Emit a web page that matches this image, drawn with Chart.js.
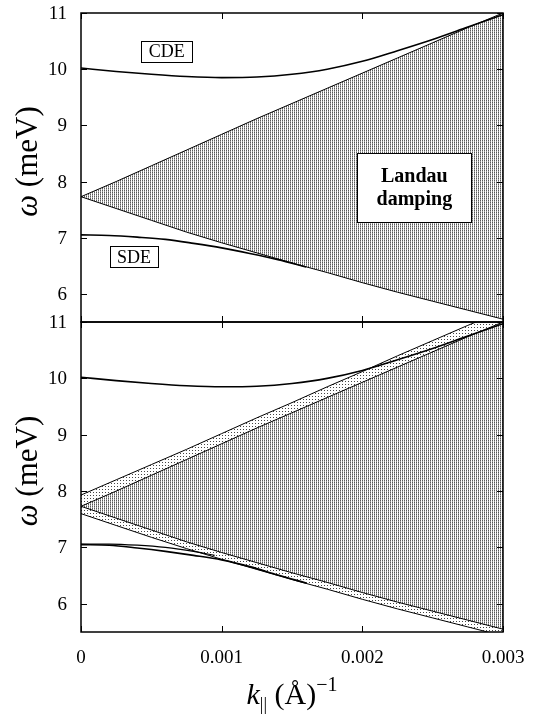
<!DOCTYPE html>
<html><head><meta charset="utf-8">
<script src="https://cdn.jsdelivr.net/npm/chart.js@4/dist/chart.umd.min.js"></script>
<style>
html,body{margin:0;padding:0;background:#fff;}
#wrap{position:relative;width:540px;height:715px;overflow:hidden;background:#fff;}
canvas{position:absolute;left:0;}
#c1{top:0;}
#c2{top:300px;}
</style></head><body>
<div id="wrap">
<canvas id="c2" width="540" height="415"></canvas>
<canvas id="c1" width="540" height="340"></canvas>
</div>
<script>
// ---- data ----
const kGrid = [0, 0.00025, 0.0005, 0.00075, 0.001, 0.00125, 0.0015, 0.00175, 0.002, 0.00225, 0.0025, 0.00275, 0.003];
const cdeOmega = [10.02, 9.96, 9.91, 9.87, 9.85, 9.86, 9.91, 10.0, 10.14, 10.33, 10.53, 10.75, 10.97];
const landauUpper = [7.73, 8.0, 8.28, 8.56, 8.84, 9.12, 9.39, 9.66, 9.93, 10.2, 10.47, 10.74, 11.0];
const landauLower = [7.73, 7.52, 7.31, 7.1, 6.91, 6.73, 6.55, 6.38, 6.2, 6.03, 5.87, 5.71, 5.55];
const outerUpper = [7.93, 8.2, 8.47, 8.74, 9.02, 9.3, 9.57, 9.85, 10.12, 10.4, 10.67, 10.94, 11.2];
const outerLower = [7.6, 7.39, 7.18, 6.98, 6.79, 6.61, 6.43, 6.26, 6.08, 5.91, 5.75, 5.59, 5.43];
const sdeK = [0, 0.0002, 0.0004, 0.0006, 0.0008, 0.001, 0.0012, 0.0014, 0.0016];
const sdeTop = [7.05, 7.04, 7.01, 6.97, 6.9, 6.82, 6.72, 6.61, 6.48];
const sdeBotB = [7.05, 7.04, 6.99, 6.93, 6.86, 6.78, 6.66, 6.51, 6.37];
const sdeAK = [0, 0.0002, 0.0004, 0.0006, 0.0008, 0.00095];
const sdeBotA = [7.06, 7.06, 7.04, 7.0, 6.93, 6.86];
const xTicks = [0, 0.001, 0.002, 0.003];
const xTickLabels = ['0', '0.001', '0.002', '0.003'];
const yTicks = [6, 7, 8, 9, 10, 11];
const yTickLabels = ['6', '7', '8', '9', '10', '11'];

// ---- annotation config (positions in data units) ----
const notes = [
  {lines: ['CDE'], k: 0.00061, w: 10.31, bw: 51, bh: 21, bold: false, size: 18},
  {lines: ['SDE'], k: 0.000376, w: 6.66, bw: 48, bh: 21, bold: false, size: 18},
  {lines: ['Landau', 'damping'], k: 0.00237, w: 7.9, bw: 114, bh: 69, bold: true, size: 20}
];

const FONT = '"Liberation Serif", "Times New Roman", serif';
Chart.defaults.font.family = FONT;
Chart.defaults.color = '#000';

function pts(ks, vs) { return ks.map((k, i) => ({x: k, y: vs[i]})); }

function makePattern(w, h, dots) {
  const c = document.createElement('canvas');
  c.width = w; c.height = h;
  const g = c.getContext('2d');
  dots.forEach(([x, y, col]) => { g.fillStyle = col; g.fillRect(x, y, 1, 1); });
  return g.createPattern(c, 'repeat');
}
const densePat = makePattern(2, 2, [[0, 0, '#5a5a5a'], [0, 1, '#a0a0a0']]);
const sparsePat = makePattern(3, 3, [[0, 0, '#444']]);

// frame, inward ticks and tick labels, all placed through the chart's own scales
const axesPlugin = {
  id: 'axesframe',
  afterDatasetsDraw(chart, args, opts) {
    const {ctx, chartArea: a, scales} = chart;
    const x = scales.x, y = scales.y;
    ctx.save();
    ctx.strokeStyle = '#000';
    ctx.lineWidth = 1.5;
    ctx.strokeRect(a.left, a.top, a.right - a.left, a.bottom - a.top);
    ctx.lineWidth = 1;
    const L = 6;
    ctx.beginPath();
    yTicks.forEach(v => {
      const py = Math.round(y.getPixelForValue(v)) + 0.5;
      ctx.moveTo(a.left, py); ctx.lineTo(a.left + L, py);
      ctx.moveTo(a.right, py); ctx.lineTo(a.right - L, py);
    });
    xTicks.forEach(v => {
      const px = Math.round(x.getPixelForValue(v)) + 0.5;
      ctx.moveTo(px, a.top); ctx.lineTo(px, a.top + L);
      ctx.moveTo(px, a.bottom); ctx.lineTo(px, a.bottom - L);
    });
    ctx.stroke();
    ctx.fillStyle = '#000';
    ctx.font = '19px ' + FONT;
    ctx.textAlign = 'right';
    ctx.textBaseline = 'middle';
    yTicks.forEach((v, i) => ctx.fillText(yTickLabels[i], a.left - 14, y.getPixelForValue(v) + 1));
    if (opts && opts.xLabels) {
      ctx.textAlign = 'center';
      xTicks.forEach((v, i) => ctx.fillText(xTickLabels[i], x.getPixelForValue(v), a.bottom + 26));
    }
    ctx.restore();
  }
};

const yTitlePlugin = {
  id: 'ytitle',
  afterDraw(chart) {
    const {ctx, chartArea: a} = chart;
    const cy = (a.top + a.bottom) / 2 - 6;
    const fs = 31;
    ctx.save();
    ctx.translate(29, cy);
    ctx.rotate(-Math.PI / 2);
    ctx.textBaseline = 'middle';
    ctx.fillStyle = '#000';
    ctx.font = 'italic ' + fs + 'px ' + FONT;
    const w1 = ctx.measureText('ω').width;
    ctx.font = fs + 'px ' + FONT;
    const t2 = ' (meV)';
    const w2 = ctx.measureText(t2).width;
    const x0 = -(w1 + w2) / 2;
    ctx.textAlign = 'left';
    ctx.font = 'italic ' + fs + 'px ' + FONT;
    ctx.fillText('ω', x0, 0);
    ctx.font = fs + 'px ' + FONT;
    ctx.fillText(t2, x0 + w1, 0);
    ctx.restore();
  }
};

const notesPlugin = {
  id: 'notes',
  afterDraw(chart) {
    const {ctx, scales: {x, y}} = chart;
    ctx.save();
    notes.forEach(n => {
      const cx = x.getPixelForValue(n.k), cy = y.getPixelForValue(n.w);
      const l = Math.round(cx - n.bw / 2) + 0.5, t = Math.round(cy - n.bh / 2) + 0.5;
      ctx.fillStyle = '#fff';
      ctx.fillRect(l, t, n.bw, n.bh);
      ctx.strokeStyle = '#000';
      ctx.lineWidth = 1;
      ctx.strokeRect(l, t, n.bw, n.bh);
      ctx.fillStyle = '#000';
      ctx.font = (n.bold ? 'bold ' : '') + n.size + 'px ' + FONT;
      ctx.textAlign = 'center';
      ctx.textBaseline = 'middle';
      const lh = n.size * 1.15;
      const y0 = cy - (n.lines.length - 1) * lh / 2;
      n.lines.forEach((s, i) => ctx.fillText(s, cx, y0 + i * lh + 1));
    });
    ctx.restore();
  }
};

const xTitlePlugin = {
  id: 'xtitle',
  afterDraw(chart) {
    const {ctx, chartArea: a} = chart;
    const cx = (a.left + a.right) / 2;
    const base = a.bottom + 72;
    ctx.save();
    ctx.fillStyle = '#000';
    ctx.textBaseline = 'alphabetic';
    ctx.textAlign = 'left';
    const parts = [
      {t: 'k', f: 'italic 30px ' + FONT, dy: 0},
      {t: '||', f: '18px ' + FONT, dy: 6},
      {t: ' (Å)', f: '30px ' + FONT, dy: 0},
      {t: '−1', f: '20px ' + FONT, dy: -13}
    ];
    let total = 0;
    parts.forEach(p => { ctx.font = p.f; p.w = ctx.measureText(p.t).width; total += p.w; });
    let xx = cx - total / 2;
    parts.forEach(p => { ctx.font = p.f; ctx.fillText(p.t, xx, base + p.dy); xx += p.w; });
    ctx.restore();
  }
};

function yScale() {
  return {
    type: 'linear', min: 5.5, max: 11, display: false,
    afterBuildTicks: s => { s.ticks = yTicks.map(v => ({value: v})); }
  };
}
function xScale() {
  return {
    type: 'linear', min: 0, max: 0.003, display: false,
    afterBuildTicks: s => { s.ticks = xTicks.map(v => ({value: v})); }
  };
}
const edge = {borderColor: '#000', borderWidth: 1, pointRadius: 0, tension: 0};
const curve = {borderColor: '#000', borderWidth: 1.6, pointRadius: 0, cubicInterpolationMode: 'monotone', fill: false};

function makeChart(canvasId, datasets, xLabels, plugins, pad) {
  return new Chart(document.getElementById(canvasId), {
    type: 'line',
    data: {datasets: datasets},
    options: {
      responsive: false, animation: false, devicePixelRatio: 1,
      events: [],
      layout: {padding: pad, autoPadding: false},
      plugins: {legend: {display: false}, tooltip: {enabled: false},
        filler: {drawTime: 'beforeDatasetsDraw'}, axesframe: {xLabels: xLabels}},
      scales: {x: xScale(), y: yScale()}
    },
    plugins: plugins
  });
}

// top panel: plot area 13..322 px, 81..503 px
makeChart('c1', [
    Object.assign({data: pts(kGrid, landauUpper), fill: '+1', backgroundColor: densePat}, edge),
    Object.assign({data: pts(kGrid, landauLower), fill: false}, edge),
    Object.assign({data: pts(kGrid, cdeOmega)}, curve),
    Object.assign({data: pts(sdeK, sdeTop)}, curve)
  ], false, [axesPlugin, yTitlePlugin, notesPlugin],
  {top: 13, right: 37, bottom: 18, left: 81});

// bottom panel: plot area 322..632 px (canvas starts at 300)
makeChart('c2', [
    Object.assign({data: pts(kGrid, landauUpper), fill: '+1', backgroundColor: densePat}, edge),
    Object.assign({data: pts(kGrid, landauLower), fill: false}, edge),
    Object.assign({data: pts(kGrid, outerUpper), fill: 0, backgroundColor: sparsePat}, edge),
    Object.assign({data: pts(kGrid, outerLower), fill: 1, backgroundColor: sparsePat}, edge),
    Object.assign({data: pts(kGrid, cdeOmega)}, curve),
    Object.assign({data: pts(sdeAK, sdeBotA)}, curve, {borderWidth: 1.2}),
    Object.assign({data: pts(sdeK, sdeBotB)}, curve)
  ], true, [axesPlugin, yTitlePlugin, xTitlePlugin],
  {top: 22, right: 37, bottom: 83, left: 81});
</script>
</body></html>
